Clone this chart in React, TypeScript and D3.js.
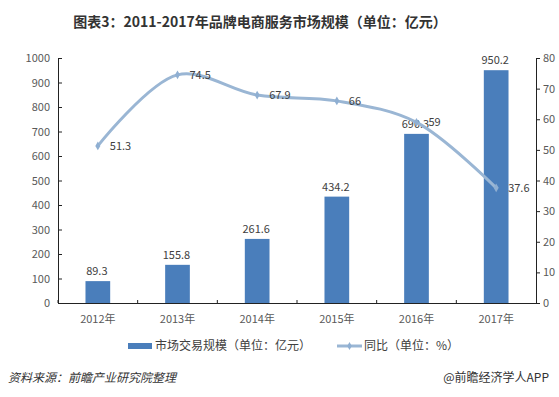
import React, { useEffect, useRef } from 'react';
import * as d3 from 'd3';

const years = ['2012年', '2013年', '2014年', '2015年', '2016年', '2017年'];
const marketSize = [89.3, 155.8, 261.6, 434.2, 690.3, 950.2];
const growth = [51.3, 74.5, 67.9, 66, 59, 37.6];
const leftTicks = [0, 100, 200, 300, 400, 500, 600, 700, 800, 900, 1000];
const rightTicks = [0, 10, 20, 30, 40, 50, 60, 70, 80];

const FONT = '"Noto Sans CJK SC", "Noto Sans", sans-serif';

export default function App() {
  const ref = useRef<SVGSVGElement>(null);

  useEffect(() => {
    if (!ref.current) return;
    const svg = d3.select(ref.current);
    svg.selectAll('*').remove();

    const W = 559, H = 397;
    const left = 58, right = 536, top = 58, bottom = 303;

    svg.append('rect').attr('width', W).attr('height', H).attr('fill', '#fff');

    // title
    svg.append('text')
      .attr('x', 260).attr('y', 27)
      .attr('text-anchor', 'middle')
      .attr('font-family', FONT)
      .attr('font-size', 14)
      .attr('font-weight', 'bold')
      .attr('fill', '#333')
      .text('图表3：2011-2017年品牌电商服务市场规模（单位：亿元）');

    const x = d3.scaleBand().domain(years).range([left, right]).paddingInner(0.69).paddingOuter(0.345);
    const yL = d3.scaleLinear().domain([0, 1000]).range([bottom, top]);
    const yR = d3.scaleLinear().domain([0, 80]).range([bottom, top]);
    const cx = (d: string) => (x(d) as number) + x.bandwidth() / 2;

    // bars
    svg.selectAll('.bar')
      .data(years)
      .enter()
      .append('rect')
      .attr('x', d => x(d) as number)
      .attr('width', x.bandwidth())
      .attr('y', (d, i) => yL(marketSize[i]))
      .attr('height', (d, i) => bottom - yL(marketSize[i]))
      .attr('fill', '#4a7ebb');

    svg.selectAll('.barlabel')
      .data(years)
      .enter()
      .append('text')
      .attr('x', d => cx(d) - 1)
      .attr('y', (d, i) => yL(marketSize[i]) - 6)
      .attr('text-anchor', 'middle')
      .attr('font-family', FONT)
      .attr('font-size', 11)
      .attr('fill', '#404040')
      .text((d, i) => String(marketSize[i]));

    // axes
    const axisColor = '#222';
    const leftAxis = svg.append('g').attr('transform', `translate(${left},0)`)
      .call(d3.axisRight(yL).tickValues(leftTicks).tickSize(4).tickFormat(d3.format('d')));
    leftAxis.selectAll('text').remove();
    svg.selectAll('.ll')
      .data(leftTicks)
      .enter()
      .append('text')
      .attr('x', left - 8)
      .attr('y', d => yL(d) + 4)
      .attr('text-anchor', 'end')
      .attr('font-family', FONT)
      .attr('font-size', 11)
      .attr('fill', '#595959')
      .text(d => String(d));

    const rightAxis = svg.append('g').attr('transform', `translate(${right},0)`)
      .call(d3.axisRight(yR).tickValues(rightTicks).tickSize(4));
    rightAxis.selectAll('text')
      .attr('x', 7)
      .attr('font-family', FONT)
      .attr('font-size', 11)
      .attr('fill', '#595959');

    const xAxis = svg.append('g').attr('transform', `translate(0,${bottom})`)
      .call(d3.axisBottom(x).tickSize(0));
    xAxis.selectAll('text')
      .attr('dy', 0).attr('y', 20)
      .attr('font-family', FONT)
      .attr('font-size', 11)
      .attr('fill', '#595959');
    // tick marks at band boundaries
    svg.selectAll('.xt')
      .data(years)
      .enter()
      .append('line')
      .attr('x1', d => (x(d) as number) - (x.step() - x.bandwidth()) / 2)
      .attr('x2', d => (x(d) as number) - (x.step() - x.bandwidth()) / 2)
      .attr('y1', bottom).attr('y2', bottom - 3)
      .attr('stroke', axisColor);

    svg.selectAll('.domain, .tick line').attr('stroke', axisColor);
    svg.selectAll('.tick text').attr('font-family', FONT);

    // growth line
    const line = d3.line<number>()
      .x((d, i) => cx(years[i]))
      .y(d => yR(d))
      .curve(d3.curveCatmullRom.alpha(0.5));
    svg.append('path')
      .datum(growth)
      .attr('d', line)
      .attr('fill', 'none')
      .attr('stroke', '#9ab6d4')
      .attr('stroke-width', 3);

    svg.selectAll('.marker')
      .data(growth)
      .enter()
      .append('path')
      .attr('d', d3.symbol(d3.symbolDiamond, 22))
      .attr('transform', (d, i) => `translate(${cx(years[i])},${yR(d)})`)
      .attr('fill', '#8fafd2');

    svg.selectAll('.linelabel')
      .data(growth)
      .enter()
      .append('text')
      .attr('x', (d, i) => cx(years[i]) + 12)
      .attr('y', d => yR(d) + 4)
      .attr('font-family', FONT)
      .attr('font-size', 11)
      .attr('fill', '#404040')
      .text(d => String(d));

    // legend
    const lg = svg.append('g').attr('font-family', FONT).attr('font-size', 12).attr('fill', '#404040');
    lg.append('rect').attr('x', 128).attr('y', 343).attr('width', 24).attr('height', 6).attr('fill', '#4a7ebb');
    lg.append('text').attr('x', 155).attr('y', 350).text('市场交易规模（单位：亿元）');
    lg.append('line').attr('x1', 337).attr('x2', 362).attr('y1', 346).attr('y2', 346)
      .attr('stroke', '#9ab6d4').attr('stroke-width', 3);
    lg.append('path').attr('d', d3.symbol(d3.symbolDiamond, 18)).attr('transform', 'translate(349.5,346)').attr('fill', '#8fafd2');
    lg.append('text').attr('x', 364).attr('y', 350).text('同比（单位：%）');

    // footer
    svg.append('text')
      .attr('x', 8).attr('y', 382)
      .attr('font-family', FONT)
      .attr('font-size', 12)
      .attr('font-style', 'italic')
      .attr('fill', '#333')
      .text('资料来源：前瞻产业研究院整理');
    svg.append('text')
      .attr('x', 549).attr('y', 382)
      .attr('text-anchor', 'end')
      .attr('font-family', FONT)
      .attr('font-size', 12)
      .attr('fill', '#333')
      .text('@前瞻经济学人APP');
  }, []);

  return (
    <svg ref={ref} width={559} height={397}
      style={{ position: 'absolute', left: 0, top: 0, display: 'block' }} />
  );
}
